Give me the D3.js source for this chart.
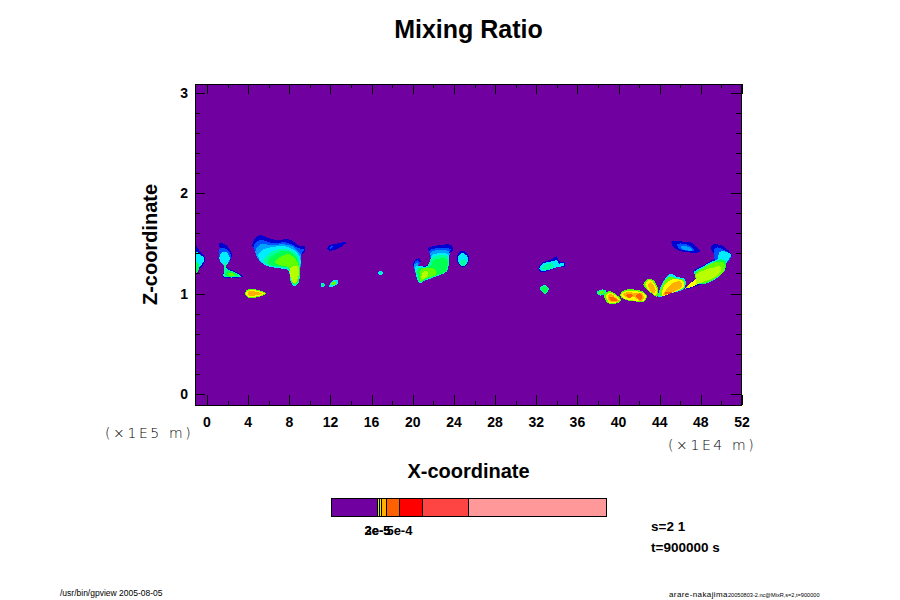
<!DOCTYPE html>
<html>
<head>
<meta charset="utf-8">
<script src="https://d3js.org/d3.v7.min.js"></script>
<style>
html,body{margin:0;padding:0;background:#fff;}
svg{display:block;}
text{font-family:"Liberation Sans",Arial,sans-serif;fill:#000;}
.bold{font-weight:bold;}
.thin{font-family:"DejaVu Sans",sans-serif;font-weight:200;}
</style>
</head>
<body>
<svg id="chart" width="900" height="600"></svg>
<script>
const xTicks = [0,4,8,12,16,20,24,28,32,36,40,44,48,52];
const xMinorTicks = [2,6,10,14,18,22,26,30,34,38,42,46,50];
const zTicks = [0,1,2,3];
const zMinorTicks = [0.2,0.4,0.6,0.8,1.2,1.4,1.6,1.8,2.2,2.4,2.6,2.8];

//[colour level, outline]
const blobA = [
  [0,[[-1.17,1.48],[-0.7,1.42],[-0.16,1.35],[-0.4,1.28],[-0.7,1.25],[-1.17,1.19]]],
  [3,[[-1.17,1.42],[-0.6,1.38],[-0.25,1.35],[-0.5,1.29],[-0.8,1.26],[-1.17,1.2]]],
  [5,[[-1.17,1.31],[-0.85,1.3],[-0.85,1.22],[-1.17,1.19]]]
];
const blobB = [
  [0,[[1.2,1.5],[1.75,1.49],[2.4,1.4],[2.23,1.32],[1.85,1.28],[1.98,1.25],[2.72,1.22],[3.47,1.17],[3.2,1.16],[1.59,1.16],[1.59,1.2],[1.75,1.26],[1.52,1.3],[1.13,1.35],[1.26,1.43]]],
  [1,[[1.25,1.45],[1.75,1.45],[2.3,1.39],[2.2,1.32],[1.8,1.28],[1.4,1.3],[1.15,1.35]]],
  [3,[[1.2,1.36],[1.45,1.41],[1.9,1.41],[2.2,1.36],[2.1,1.31],[1.8,1.28],[1.4,1.3]]],
  [4,[[1.68,1.31],[1.9,1.3],[1.9,1.25],[2.7,1.21],[3.3,1.17],[1.7,1.165],[1.55,1.18],[1.7,1.22]]],
  [5,[[2.0,1.22],[2.6,1.21],[3.0,1.18],[1.9,1.172],[1.75,1.19]]],
  [6,[[2.1,1.205],[2.5,1.2],[2.7,1.18],[2.1,1.177]]]
];
const blobC = [
  [6,[[3.69,1.01],[4.11,1.045],[5.15,1.03],[5.73,1.0],[5.31,0.975],[4.18,0.955],[3.79,0.975]]],
  [8,[[3.8,1.005],[4.15,1.035],[5.1,1.02],[5.6,1.0],[5.2,0.98],[4.2,0.965],[3.85,0.98]]],
  [9,[[3.95,1.01],[4.2,1.025],[5.0,1.01],[5.4,0.998],[4.9,0.985],[4.2,0.975],[4.0,0.99]]]
];
const blobD = [
  [0,[[4.41,1.48],[4.66,1.55],[5.15,1.58],[5.8,1.56],[6.77,1.53],[7.58,1.54],[8.23,1.53],[8.88,1.48],[9.52,1.47],[9.52,1.42],[9.04,1.37],[9.04,1.23],[8.88,1.10],[8.45,1.075],[8.13,1.12],[7.9,1.23],[7.09,1.25],[5.96,1.27],[5.15,1.32],[4.83,1.4]]],
  [1,[[4.5,1.46],[4.9,1.52],[5.4,1.53],[6.5,1.5],[7.5,1.51],[8.2,1.49],[8.9,1.45],[9.45,1.44],[9.04,1.37],[9.04,1.23],[8.88,1.1],[8.45,1.075],[8.13,1.12],[7.9,1.23],[7.09,1.25],[5.96,1.27],[5.15,1.32],[4.83,1.4]]],
  [2,[[4.7,1.42],[5.2,1.49],[6.3,1.48],[7.4,1.49],[8.3,1.47],[8.8,1.42],[9.15,1.38],[9.04,1.23],[8.88,1.1],[8.45,1.075],[8.13,1.12],[7.9,1.23],[7.09,1.25],[5.96,1.27],[5.15,1.32]]],
  [3,[[4.95,1.38],[5.5,1.44],[6.2,1.46],[7,1.47],[7.6,1.47],[8.5,1.43],[9.04,1.36],[9.04,1.23],[8.88,1.1],[8.45,1.075],[8.13,1.12],[7.9,1.23],[7.09,1.25],[5.96,1.27],[5.3,1.31]]],
  [4,[[5.5,1.34],[6.2,1.41],[7,1.44],[7.8,1.44],[8.6,1.4],[9.0,1.32],[9.0,1.2],[8.85,1.1],[8.45,1.08],[8.2,1.12],[7.95,1.24],[7.1,1.26],[6,1.28],[5.5,1.31]]],
  [5,[[5.9,1.32],[6.4,1.38],[7.2,1.42],[8,1.42],[8.7,1.36],[8.98,1.28],[8.9,1.13],[8.5,1.09],[8.25,1.14],[8.0,1.25],[7.1,1.27],[6.1,1.285]]],
  [6,[[6.6,1.31],[7.2,1.37],[8,1.39],[8.6,1.34],[8.95,1.27],[8.92,1.16],[8.55,1.09],[8.2,1.13],[7.95,1.26],[7.1,1.28]]],
  [7,[[8.07,1.25],[8.88,1.27],[8.88,1.17],[8.55,1.1],[8.23,1.13]]]
];
const blobE = [
  [0,[[11.73,1.47],[12.28,1.49],[13.57,1.51],[12.6,1.44],[11.79,1.43]]],
  [1,[[11.95,1.46],[12.3,1.475],[12.0,1.44]]]
];
const blobF = [
  [3,[[11.05,1.085],[11.24,1.11],[11.45,1.085],[11.24,1.06]]],
  [5,[[11.15,1.085],[11.24,1.1],[11.35,1.085],[11.24,1.07]]]
];
const blobG = [
  [3,[[11.89,1.085],[12.28,1.13],[12.7,1.134],[12.7,1.1],[12.28,1.07],[11.89,1.07]]],
  [6,[[12.05,1.09],[12.35,1.12],[12.55,1.11],[12.3,1.08]]]
];
const blobH = [
  [3,[[16.6,1.205],[16.84,1.23],[17.1,1.205],[16.84,1.18]]],
  [5,[[16.75,1.205],[16.84,1.215],[16.95,1.205],[16.84,1.195]]]
];
const blobI = [
  [0,[[21.51,1.45],[21.99,1.47],[23.78,1.48],[23.87,1.42],[23.45,1.4],[23.36,1.3],[23.23,1.22],[22.32,1.17],[21.19,1.13],[20.7,1.1],[20.47,1.13],[20.21,1.23],[20.05,1.3],[20.54,1.35],[20.76,1.32],[20.54,1.27],[21.35,1.28],[21.74,1.33],[21.67,1.4]]],
  [1,[[21.67,1.43],[23.7,1.44],[23.45,1.4],[23.36,1.3],[23.23,1.22],[22.32,1.17],[21.19,1.13],[20.7,1.1],[20.47,1.13],[20.21,1.23],[20.1,1.3],[20.5,1.33],[20.7,1.31],[20.5,1.26],[21.35,1.27],[21.75,1.32]]],
  [2,[[21.75,1.41],[23.5,1.42],[23.4,1.3],[23.23,1.22],[22.32,1.17],[21.19,1.13],[20.7,1.1],[20.47,1.13],[20.21,1.23],[20.15,1.29],[20.5,1.3],[20.5,1.26],[21.35,1.27],[21.8,1.32]]],
  [3,[[21.85,1.38],[23.45,1.39],[23.36,1.3],[23.23,1.22],[22.32,1.17],[21.19,1.13],[20.7,1.1],[20.47,1.13],[20.25,1.23],[20.3,1.27],[21.35,1.27],[21.8,1.32]]],
  [4,[[21.9,1.36],[23.4,1.37],[23.3,1.22],[22.3,1.175],[21.2,1.135],[20.7,1.105],[20.5,1.14],[20.4,1.24],[21.35,1.265]]],
  [5,[[22,1.33],[23.3,1.34],[23.2,1.22],[22.3,1.18],[21.2,1.14],[20.75,1.11],[20.55,1.15],[20.5,1.25],[21.35,1.26],[21.8,1.28]]],
  [6,[[20.8,1.24],[21.6,1.25],[22.2,1.24],[22.3,1.19],[21.2,1.15],[20.75,1.12]]],
  [7,[[20.9,1.2],[21.3,1.23],[21.5,1.18],[20.9,1.14]]]
];
const blobJ = [
  [0,[[24.3,1.37],[24.6,1.42],[25.1,1.42],[25.45,1.36],[25.3,1.29],[24.9,1.26],[24.45,1.29]]],
  [3,[[24.4,1.36],[24.7,1.4],[25.1,1.39],[25.4,1.35],[25.2,1.29],[24.9,1.27],[24.5,1.3]]],
  [4,[[24.6,1.32],[25,1.34],[25.25,1.31],[24.9,1.27],[24.6,1.29]]]
];
const blobK = [
  [0,[[32.2,1.25],[32.68,1.31],[33.49,1.34],[33.98,1.37],[34.24,1.32],[34.79,1.31],[34.79,1.27],[33.98,1.26],[33.0,1.22],[32.36,1.22]]],
  [3,[[32.3,1.25],[32.7,1.3],[33.5,1.32],[34,1.33],[34.2,1.3],[34.7,1.3],[34.7,1.28],[34,1.26],[33,1.23],[32.4,1.23]]],
  [4,[[32.5,1.25],[33,1.29],[33.6,1.3],[33.7,1.27],[33.2,1.24],[32.6,1.235]]]
];
const blobL = [
  [4,[[32.36,1.05],[32.75,1.085],[33.24,1.05],[32.85,0.995],[32.52,1.02]]],
  [5,[[32.5,1.05],[32.75,1.07],[33.1,1.05],[32.85,1.0],[32.6,1.03]]]
];
const blobM = [
  [4,[[37.87,1.01],[38.36,1.04],[38.78,1.03],[38.68,0.995],[38.2,0.98]]],
  [6,[[38.05,1.005],[38.36,1.03],[38.6,1.02],[38.5,1.0],[38.2,0.99]]]
];
const blobN = [
  [6,[[38.58,0.985],[39.1,1.025],[39.65,1.0],[40.24,0.935],[39.82,0.902],[39.0,0.902]]],
  [8,[[38.8,0.98],[39.15,1.01],[39.6,0.99],[40.12,0.935],[39.75,0.91],[39.1,0.91]]],
  [9,[[38.95,0.975],[39.3,0.995],[39.7,0.96],[40.05,0.925],[39.6,0.915],[39.1,0.925]]],
  [10,[[39.1,0.96],[39.4,0.97],[39.9,0.93],[39.6,0.925],[39.3,0.93]]]
];
const blobO = [
  [6,[[40.14,0.985],[40.63,1.035],[42.24,1.025],[42.73,0.985],[42.57,0.925],[41.92,0.919],[40.46,0.945]]],
  [8,[[40.25,0.985],[40.7,1.025],[42.15,1.015],[42.65,0.985],[42.48,0.93],[41.95,0.925],[40.55,0.95]]],
  [9,[[40.45,0.985],[40.8,1.015],[41.5,1.005],[42.2,1.005],[42.45,0.97],[42.35,0.935],[42,0.93],[41.5,0.965],[40.8,0.96]]],
  [10,[[40.75,0.98],[41.1,1.0],[41.4,0.98],[41.1,0.955]]],
  [10,[[41.7,0.985],[42.1,1.0],[42.3,0.96],[42.05,0.935]]]
];
const blobP = [
  [6,[[42.41,1.085],[42.8,1.14],[43.38,1.134],[43.86,1.035],[43.77,0.969],[43.22,1.0],[42.8,1.035]]],
  [8,[[42.6,1.085],[42.9,1.13],[43.3,1.12],[43.75,1.03],[43.65,0.985],[43.0,1.03]]],
  [9,[[42.9,1.09],[43.1,1.115],[43.35,1.09],[43.6,1.03],[43.45,1.0],[43.0,1.045]]]
];
const blobQ = [
  [3,[[43.86,0.969],[44.35,1.118],[45.1,1.2],[45.58,1.168],[46.46,1.141],[46.39,1.05],[45.0,1.0],[44.19,0.969]]],
  [6,[[43.95,0.975],[44.4,1.11],[45.0,1.17],[45.6,1.15],[46.4,1.13],[46.35,1.06],[45,1.0],[44.2,0.975]]],
  [8,[[44.2,0.99],[44.5,1.09],[45.2,1.14],[45.9,1.14],[46.35,1.11],[46.3,1.06],[45,1.0],[44.3,0.975]]],
  [9,[[44.35,0.985],[44.8,1.06],[45.4,1.11],[46,1.12],[46.2,1.07],[45.6,1.03],[45,1.0]]],
  [10,[[44.5,1.01],[45.2,1.01],[45,1.0],[44.5,0.995]]]
];
const blobR = [
  [0,[[46.46,1.05],[47.6,1.17],[47.27,1.22],[48.08,1.27],[49.05,1.33],[49.53,1.35],[49.05,1.43],[49.05,1.48],[49.53,1.49],[50.18,1.47],[50.99,1.38],[50.5,1.32],[50.34,1.23],[49.21,1.13],[48.08,1.09],[47.43,1.07],[46.62,1.04]]],
  [1,[[49.3,1.35],[49.3,1.44],[49.6,1.46],[50.1,1.44],[50.95,1.38],[50.5,1.31],[49.6,1.3]]],
  [3,[[47.3,1.21],[48.08,1.26],[49.1,1.32],[49.6,1.34],[49.8,1.41],[50.3,1.42],[50.95,1.38],[50.5,1.31],[50.34,1.23],[49.21,1.13],[48.08,1.09],[47.6,1.1],[47.7,1.16]]],
  [5,[[47.4,1.2],[48.2,1.25],[49.2,1.31],[49.9,1.34],[50.45,1.32],[50.3,1.23],[49.2,1.135],[48.1,1.095],[47.7,1.12]]],
  [6,[[47.5,1.2],[48.3,1.26],[49.3,1.31],[50.2,1.31],[50.3,1.23],[49.2,1.14],[48.1,1.1],[47.6,1.12]]],
  [7,[[47.5,1.18],[48.3,1.23],[49.3,1.26],[49.9,1.27],[49.9,1.21],[49.1,1.15],[48.1,1.11],[47.43,1.08],[46.6,1.05],[46.46,1.05],[47.6,1.16]]],
  [8,[[46.6,1.055],[47.5,1.14],[47.4,1.08]]]
];
const blobS = [
  [0,[[45.16,1.516],[46.29,1.516],[47.1,1.506],[47.91,1.416],[45.97,1.423],[45.32,1.466]]],
  [1,[[45.7,1.49],[46.6,1.49],[47.4,1.43],[46,1.44]]],
  [2,[[46.1,1.47],[46.9,1.46],[47.2,1.43],[46.2,1.44]]]
];
const blobs = [blobA,blobB,blobC,blobD,blobE,blobF,blobG,blobH,blobI,blobJ,blobK,blobL,blobM,blobN,blobO,blobP,blobQ,blobR,blobS];

//colour bar
const barEdges = [0,1.005e-4,1.04e-4,1.09e-4,1.19e-4,1.48e-4,1.98e-4,2.98e-4,6e-4];
const barLabels = [['2e-5',1.0e-4],['3e-5',1.0e-4],['5e-4',1.48e-4]];

//Layout and colours
const levelColor = ['#0000d0','#0050ff','#00a0ff','#00ecff','#00ffa0','#00ff50','#60ff00','#b8ff00','#ffff00','#ffb000','#ff6000'];
const barColor = ['#7000a0','#c0ff00','#ffe000','#ffb000','#ff6000','#ff0000','#ff4444','#ff9999'];
const purple = '#7000a0';

const svg = d3.select('#chart');
const xScale = d3.scaleLinear([0,52],[207,742]);
const zScale = d3.scaleLinear([0,3],[394,92.5]);
const plot = {left:195,right:741,top:84,bottom:405};

svg.append('clipPath').attr('id','plot-clip').append('rect')
  .attr('x',plot.left).attr('y',plot.top)
  .attr('width',plot.right-plot.left).attr('height',plot.bottom-plot.top);

//Field
const field = svg.append('g').attr('clip-path','url(#plot-clip)').attr('shape-rendering','crispEdges');
field.append('rect')
  .attr('x',plot.left).attr('y',plot.top)
  .attr('width',plot.right-plot.left).attr('height',plot.bottom-plot.top)
  .attr('fill',purple);

const outline = d3.line().x(d=>xScale(d[0])).y(d=>zScale(d[1])).curve(d3.curveCatmullRomClosed.alpha(0.5));
field.selectAll('g.blob').data(blobs).join('g').attr('class','blob')
  .selectAll('path').data(d=>d).join('path')
  .attr('d',d=>outline(d[1]))
  .attr('fill',d=>levelColor[d[0]]);

//Axes: ticks point inwards on all four sides
const axisBottomBig = d3.axisBottom(xScale).tickValues(xTicks).tickSize(-10).tickSizeOuter(0).tickFormat('');
const axisBottomSmall = d3.axisBottom(xScale).tickValues(xMinorTicks).tickSize(-4).tickSizeOuter(0).tickFormat('');
const axisTopBig = d3.axisTop(xScale).tickValues(xTicks).tickSize(-10).tickSizeOuter(0).tickFormat('');
const axisTopSmall = d3.axisTop(xScale).tickValues(xMinorTicks).tickSize(-4).tickSizeOuter(0).tickFormat('');
const axisLeftBig = d3.axisLeft(zScale).tickValues(zTicks).tickSize(-10).tickSizeOuter(0).tickFormat('');
const axisLeftSmall = d3.axisLeft(zScale).tickValues(zMinorTicks).tickSize(-5).tickSizeOuter(0).tickFormat('');
const axisRightBig = d3.axisRight(zScale).tickValues(zTicks).tickSize(-10).tickSizeOuter(0).tickFormat('');
const axisRightSmall = d3.axisRight(zScale).tickValues(zMinorTicks).tickSize(-5).tickSizeOuter(0).tickFormat('');

[[axisBottomBig,`translate(0,${plot.bottom})`],[axisBottomSmall,`translate(0,${plot.bottom})`],
 [axisTopBig,`translate(0,${plot.top})`],[axisTopSmall,`translate(0,${plot.top})`],
 [axisLeftBig,`translate(${plot.left},0)`],[axisLeftSmall,`translate(${plot.left},0)`],
 [axisRightBig,`translate(${plot.right},0)`],[axisRightSmall,`translate(${plot.right},0)`]
].forEach(a=>{
  const g = svg.append('g').attr('transform',a[1]).attr('shape-rendering','crispEdges').call(a[0]);
  g.select('.domain').remove();
});
svg.append('rect')
  .attr('x',plot.left).attr('y',plot.top)
  .attr('width',plot.right-plot.left).attr('height',plot.bottom-plot.top)
  .attr('fill','none').attr('stroke','#000').attr('shape-rendering','crispEdges');

//Tick labels
svg.selectAll('.xlab').data(xTicks).join('text').attr('class','xlab bold')
  .attr('x',d=>xScale(d)).attr('y',427).attr('text-anchor','middle')
  .style('font-size','14px').text(d=>d);
svg.selectAll('.zlab').data(zTicks).join('text').attr('class','zlab bold')
  .attr('x',188).attr('y',d=>zScale(d)+5).attr('text-anchor','end')
  .style('font-size','14px').text(d=>d);

//Titles
svg.append('text').attr('class','bold').attr('x',468.5).attr('y',38).attr('text-anchor','middle')
  .style('font-size','25px').text('Mixing Ratio');
svg.append('text').attr('class','bold').attr('x',468.5).attr('y',478).attr('text-anchor','middle')
  .style('font-size','20px').text('X-coordinate');
svg.append('text').attr('class','bold').attr('transform','translate(157,244.5) rotate(-90)').attr('text-anchor','middle')
  .style('font-size','20px').text('Z-coordinate');

//Unit labels
svg.append('text').attr('class','thin').attr('x',105).attr('y',438)
  .style('font-size','14px').style('letter-spacing','2.6px').text('(×1E5 m)');
svg.append('text').attr('class','thin').attr('x',668).attr('y',450)
  .style('font-size','14px').style('letter-spacing','2.6px').text('(×1E4 m)');

//Colour bar
const barScale = d3.scaleLinear([0,6e-4],[331.7,606.3]);
const barCells = d3.pairs(barEdges);
svg.append('g').attr('shape-rendering','crispEdges').selectAll('rect').data(barCells).join('rect')
  .attr('x',d=>barScale(d[0])).attr('y',498)
  .attr('width',d=>barScale(d[1])-barScale(d[0])).attr('height',18)
  .attr('fill',(d,i)=>barColor[i]).attr('stroke','#000');
svg.selectAll('.barlab').data(barLabels).join('text').attr('class','barlab bold')
  .attr('x',d=>barScale(d[1])).attr('y',535).attr('text-anchor','middle')
  .style('font-size','13px').text(d=>d[0]);

//Side notes
svg.append('text').attr('class','bold').attr('x',651).attr('y',531).style('font-size','13.5px').text('s=2 1');
svg.append('text').attr('class','bold').attr('x',651).attr('y',552).style('font-size','13.5px').text('t=900000 s');

//Footer
svg.append('text').attr('x',60).attr('y',596).style('font-size','8.5px').text('/usr/bin/gpview 2005-08-05');
svg.append('text').attr('x',669).attr('y',597).style('font-size','8px').style('letter-spacing','0.4px').text('arare-nakajima');
svg.append('text').attr('x',728).attr('y',597).style('font-size','5.6px').text('20050803-2.nc@MixR,s=2,t=900000');
</script>
</body>
</html>
